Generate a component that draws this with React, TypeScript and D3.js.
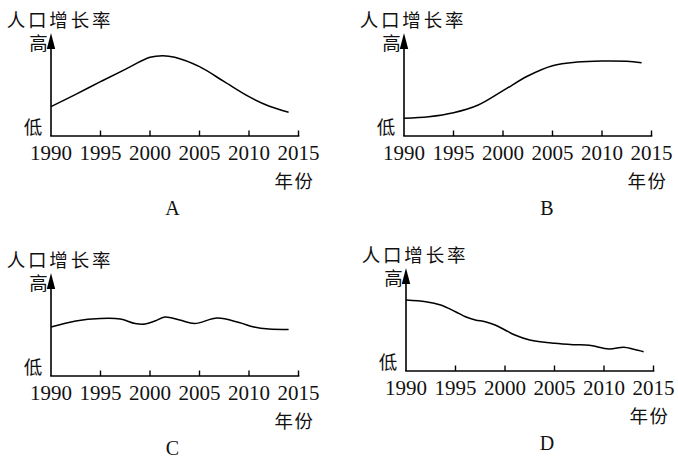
import React from "react";
import * as d3 from "d3";

const tickYears = [1990, 1995, 2000, 2005, 2010, 2015];
const yTitle = "人口增长率";
const highLabel = "高";
const lowLabel = "低";
const xTitle = "年份";
const panelNames = ["A", "B", "C", "D"];

const yearsA = [1990, 1992.5, 1995, 1997.5, 2000, 2001.3, 2002.5, 2005, 2007.5, 2010, 2012, 2014];
const valuesA = [2.93, 4.17, 5.43, 6.67, 7.87, 8.03, 7.87, 6.93, 5.43, 3.93, 3.0, 2.37];

const yearsB = [1990, 1992.5, 1995, 1997.5, 2000, 2002.5, 2005, 2007.5, 2010, 2012.5, 2014];
const valuesB = [1.77, 1.93, 2.33, 3.1, 4.53, 6.0, 7.03, 7.4, 7.5, 7.47, 7.33];

const yearsC = [1990, 1992.5, 1995, 1997, 1998.5, 1999.5, 2000.5, 2001.5, 2003, 2004.5, 2006.8, 2009, 2010.5, 2012, 2014];
const valuesC = [4.9, 5.5, 5.75, 5.7, 5.25, 5.2, 5.5, 5.9, 5.6, 5.25, 5.8, 5.35, 4.9, 4.7, 4.65];

const yearsD = [1990, 1992, 1993.5, 1995, 1996, 1997, 1998, 1999, 2000, 2001, 2002.5, 2005, 2007, 2008.5, 2010.5, 2012, 2013, 2014];
const valuesD = [7.1, 6.93, 6.6, 5.93, 5.43, 5.1, 4.93, 4.6, 4.1, 3.6, 3.1, 2.77, 2.63, 2.57, 2.2, 2.37, 2.17, 1.93];

const panels = [
  { name: panelNames[0], years: yearsA, values: valuesA, ox: 51, oy: 136, letterX: 172.5 },
  { name: panelNames[1], years: yearsB, values: valuesB, ox: 404, oy: 136, letterX: 547 },
  { name: panelNames[2], years: yearsC, values: valuesC, ox: 51, oy: 376, letterX: 172.5 },
  { name: panelNames[3], years: yearsD, values: valuesD, ox: 406, oy: 371, letterX: 547 },
];

const cjk = "'Noto Sans CJK SC', 'Noto Sans', sans-serif";
const serif = "'Liberation Serif', 'DejaVu Serif', serif";

function Panel({ p }: { p: typeof panels[number] }) {
  const { ox, oy } = p;
  const x = d3.scaleLinear().domain([1990, 2015]).range([ox, ox + 247.5]);
  const y = d3.scaleLinear().domain([0, 10]).range([oy, oy - 100]);
  const line = d3
    .line<number>()
    .x((_, i) => x(p.years[i]))
    .y((v) => y(v))
    .curve(d3.curveCatmullRom.alpha(0.5));
  const tipY = oy - 103;
  return (
    <g>
      <line x1={ox} y1={oy} x2={ox} y2={tipY + 10} stroke="#000" strokeWidth={1.6} />
      <path d={`M${ox},${tipY} L${ox - 4.2},${tipY + 16} L${ox + 4.2},${tipY + 16} Z`} fill="#000" />
      <line x1={ox - 0.8} y1={oy} x2={x(2015) + 0.8} y2={oy} stroke="#000" strokeWidth={1.6} />
      {tickYears.slice(1).map((t) => (
        <line key={t} x1={x(t)} x2={x(t)} y1={oy} y2={oy - 5.5} stroke="#000" strokeWidth={1.4} />
      ))}
      {tickYears.map((t) => (
        <text key={"l" + t} x={x(t)} y={oy + 24} textAnchor="middle" fontFamily={serif} fontSize={21} fill="#111">
          {t}
        </text>
      ))}
      <path d={line(p.values) || ""} fill="none" stroke="#000" strokeWidth={1.5} />
      <text x={ox + 9} y={oy - 117} textAnchor="middle" dominantBaseline="central" fontFamily={cjk} fontSize={18.5} letterSpacing={2.8} fill="#111">
        {yTitle}
      </text>
      <text x={ox - 12.5} y={oy - 94} textAnchor="middle" dominantBaseline="central" fontFamily={cjk} fontSize={18.5} fill="#111">
        {highLabel}
      </text>
      <text x={ox - 18} y={oy - 10} textAnchor="middle" dominantBaseline="central" fontFamily={cjk} fontSize={18.5} fill="#111">
        {lowLabel}
      </text>
      <text x={x(2015) - 4} y={oy + 44} textAnchor="middle" dominantBaseline="central" fontFamily={cjk} fontSize={18.5} letterSpacing={1.5} fill="#111">
        {xTitle}
      </text>
      <text x={p.letterX} y={oy + 79} textAnchor="middle" fontFamily={serif} fontSize={20} fill="#111">
        {p.name}
      </text>
    </g>
  );
}

export default function App() {
  return (
    <svg width={678} height={459} style={{ position: "absolute", left: 0, top: 0, background: "#fff" }}>
      <rect width={678} height={459} fill="#fff" />
      {panels.map((p) => (
        <Panel key={p.name} p={p} />
      ))}
    </svg>
  );
}
